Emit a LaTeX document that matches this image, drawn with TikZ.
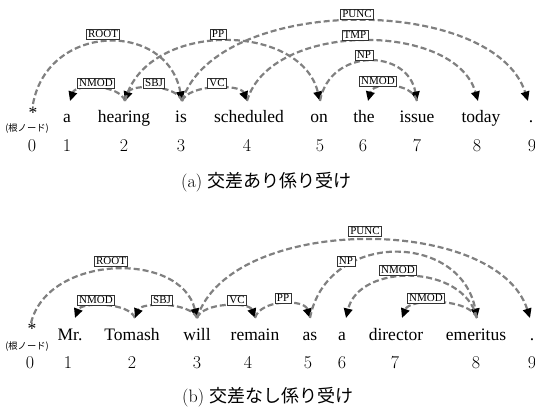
\documentclass[tikz,border=0pt]{standalone}
\usepackage{fontspec}
\newfontfamily\tnr{Liberation Serif}
\newfontfamily\cjk{Noto Sans CJK JP}
\usetikzlibrary{arrows.meta,calc}
\newcommand\deparc[3]{%
  \draw[dep] (#1) .. controls ($(#1)!0.1!(#2)+(0,-#3)$) and ($(#2)!0.1!(#1)+(0,-#3)$) .. (#2);}
\begin{document}
\begin{tikzpicture}[x=1pt,y=-1pt,
  dep/.style={draw=black!50, line width=2.2pt, dash pattern=on 6pt off 3pt,
    -{Triangle[length=9.5pt,width=8.5pt,color=black]}},
  lab/.style={draw=black!80, fill=white, line width=0.6pt,
    font=\tnr\fontsize{11}{11}\selectfont, inner xsep=1.8pt, inner ysep=1.5pt,
    text height=7.3pt, text depth=0pt},
  word/.style={font=\tnr\fontsize{17.5}{18}\selectfont, anchor=base, inner sep=0pt},
  num/.style={font=\fontsize{18}{18}\selectfont, anchor=base, inner sep=0pt},
  rootlab/.style={font=\cjk\fontsize{9.3}{10}\selectfont, inner sep=0pt},
  captext/.style={font=\fontsize{18}{18}\selectfont, anchor=base west, inner sep=0pt}]
\useasboundingbox (0,0) rectangle (535,414);

% ---------------- (a) ----------------
\node[word] (ts) at (33,119) {*};
\node[rootlab] (tr) at (27,129) {(根ノード)};
\node[word] (tw1) at (67,123) {a};
\node[word] (tw2) at (124,123) {hearing};
\node[word] (tw3) at (181,123) {is};
\node[word] (tw4) at (249,123) {scheduled};
\node[word] (tw5) at (319,123) {on};
\node[word] (tw6) at (364,123) {the};
\node[word] (tw7) at (417,123) {issue};
\node[word] (tw8) at (481,123) {today};
\node[word] (tw9) at (531,123) {.};
\foreach \i/\x in {0/32,1/67,2/124,3/181,4/247,5/320,6/363,7/417,8/477,9/532}
  \node[num] (tn\i) at (\x,151.5) {\i};

\coordinate (a0) at (33,104);
\coordinate (a1) at (70,101);
\coordinate (a2) at (125,101);
\coordinate (a3) at (182,101);
\coordinate (a4) at (247,101);
\coordinate (a5) at (320,101);
\coordinate (a6) at (368,101);
\coordinate (a7) at (417,101);
\coordinate (a8) at (478,101);
\coordinate (a9) at (528,101);

\deparc{a0}{a3}{81}
\deparc{a2}{a1}{17}
\deparc{a3}{a2}{17}
\deparc{a3}{a4}{17}
\deparc{a2}{a5}{80}
\deparc{a3}{a9}{107}
\deparc{a4}{a8}{80}
\deparc{a5}{a7}{53}
\deparc{a7}{a6}{19}

\node[lab] (tlroot) at (103,34) {ROOT};
\node[lab] (tlnmod1) at (96,83) {NMOD};
\node[lab] (tlsbj) at (154,83) {SBJ};
\node[lab] (tlvc) at (217,83) {VC};
\node[lab] (tlpp) at (218,34) {PP};
\node[lab] (tlpunc) at (357,14) {PUNC};
\node[lab] (tltmp) at (355,35) {TMP};
\node[lab] (tlnp) at (364,55) {NP};
\node[lab] (tlnmod2) at (378,81) {NMOD};

\node[captext] (capa) at (181,188) {(a) {\cjk 交差あり係り受け}};

% ---------------- (b) ----------------
\node[word] (bs) at (32,334) {*};
\node[rootlab] (br) at (27,347) {(根ノード)};
\node[word] (bw1) at (70,340) {Mr.};
\node[word] (bw2) at (132,340) {Tomash};
\node[word] (bw3) at (197,340) {will};
\node[word] (bw4) at (255,340) {remain};
\node[word] (bw5) at (310,340) {as};
\node[word] (bw6) at (342,340) {a};
\node[word] (bw7) at (396,340) {director};
\node[word] (bw8) at (476,340) {emeritus};
\node[word] (bw9) at (532,340) {.};
\foreach \i/\x in {0/30,1/68,2/132,3/197,4/248,5/308,6/342,7/395,8/476,9/532}
  \node[num] (bn\i) at (\x,368) {\i};

\coordinate (b0) at (31,323);
\coordinate (b1) at (75,318);
\coordinate (b2) at (135,318);
\coordinate (b3) at (197,318);
\coordinate (b4) at (255,318);
\coordinate (b5) at (310,318);
\coordinate (b6) at (346,318);
\coordinate (b7) at (402,318);
\coordinate (b8) at (477,318);
\coordinate (b9) at (530,318);

\deparc{b0}{b3}{68}
\deparc{b2}{b1}{16}
\deparc{b3}{b2}{16}
\deparc{b3}{b4}{16}
\deparc{b4}{b5}{19}
\deparc{b3}{b9}{104}
\deparc{b5}{b8}{87}
\deparc{b8}{b6}{55}
\deparc{b8}{b7}{20}

\node[lab] (blroot) at (111,261) {ROOT};
\node[lab] (blnmod1) at (96,300) {NMOD};
\node[lab] (blsbj) at (162,300) {SBJ};
\node[lab] (blvc) at (237,300) {VC};
\node[lab] (blpp) at (283,298) {PP};
\node[lab] (blpunc) at (365,231) {PUNC};
\node[lab] (blnp) at (346,261) {NP};
\node[lab] (blnmod2) at (398,270) {NMOD};
\node[lab] (blnmod3) at (426,298) {NMOD};

\node[captext] (capb) at (182,402) {(b) {\cjk 交差なし係り受け}};
\end{tikzpicture}
\end{document}
